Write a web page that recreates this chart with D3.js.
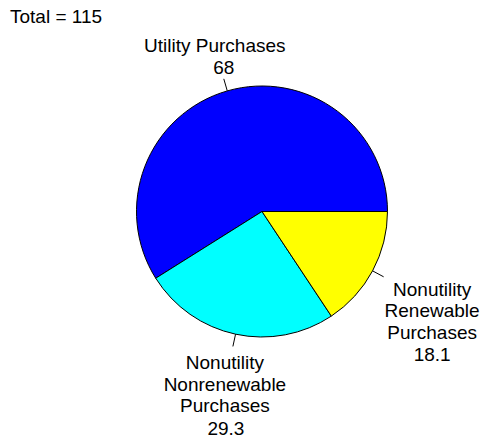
<!DOCTYPE html>
<html lang="en">
<head>
<meta charset="UTF-8">
<title>Purchases pie</title>
<script src="https://d3js.org/d3.v7.min.js"></script>
<style>
  body { margin: 0; background: #fff; }
  text { font-family: Arial, "Liberation Sans", sans-serif; font-size: 19px; fill: #000; }
</style>
</head>
<body>
<script>
  const categories = ["Utility Purchases", "Nonutility Nonrenewable Purchases", "Nonutility Renewable Purchases"];
  const labelLines = [["Utility Purchases"], ["Nonutility", "Nonrenewable", "Purchases"], ["Nonutility", "Renewable", "Purchases"]];
  const values = [68, 29.3, 18.1];
  const colors = ["#0000ff", "#00ffff", "#ffff00"];

  const w = 480, h = 440;
  const cx = 262, cy = 211.5, r = 125.5;

  // label block placement relative to end of the tick [name dx, value dx, first baseline dy]
  const labelPos = [[-9, 0, -27], [-8, -7, 23], [48.5, 48.5, 19]];

  const svg = d3.select("body").append("svg").attr("width", w).attr("height", h);

  const total = d3.sum(values);
  svg.append("text").attr("x", 10).attr("y", 23)
    .text("Total = " + Math.round(total));

  // counterclockwise from 3 o'clock, like R's pie()
  const pie = d3.pie().sort(null).value(d => d)
    .startAngle(Math.PI / 2).endAngle(Math.PI / 2 - 2 * Math.PI);
  const arcs = pie(values);

  const arc = d3.arc().innerRadius(0).outerRadius(r);
  const g = svg.append("g").attr("transform", `translate(${cx},${cy})`);

  g.selectAll("path").data(arcs).enter().append("path")
    .attr("d", arc)
    .attr("fill", (d, i) => colors[i])
    .attr("stroke", "#000")
    .attr("stroke-width", 1);

  const mid = d => (d.startAngle + d.endAngle) / 2;
  const pt = (d, k) => [Math.sin(mid(d)) * r * k, -Math.cos(mid(d)) * r * k];

  arcs.forEach((d, i) => {
    const p0 = pt(d, 1), p1 = pt(d, 1.1);
    g.append("line")
      .attr("x1", p0[0]).attr("y1", p0[1])
      .attr("x2", p1[0]).attr("y2", p1[1])
      .attr("stroke", "#000").attr("stroke-width", 1);

    const lp = labelPos[i];
    const lines = labelLines[i];
    let y = p1[1] + lp[2];
    lines.forEach((t, j) => {
      g.append("text").attr("x", p1[0] + lp[0]).attr("y", y)
        .attr("text-anchor", "middle").text(t);
      y += 21.5;
    });
    g.append("text").attr("x", p1[0] + lp[1]).attr("y", y - 21.5 + 22.5)
      .attr("text-anchor", "middle").text(values[i]);
  });
</script>
</body>
</html>
